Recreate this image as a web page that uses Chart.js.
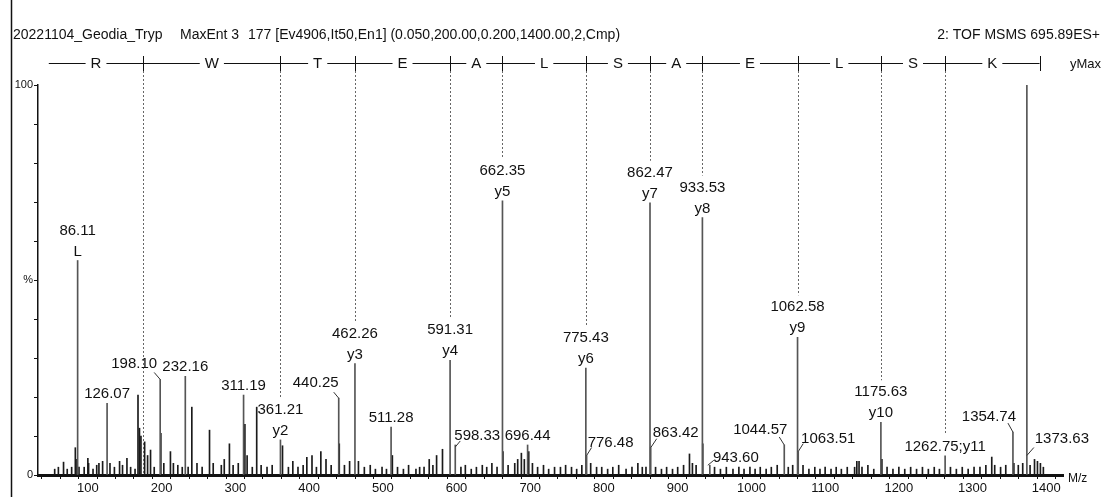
<!DOCTYPE html>
<html>
<head>
<meta charset="utf-8">
<script src="https://cdn.jsdelivr.net/npm/chart.js@4.4.0/dist/chart.umd.min.js"></script>
<style>
  html, body { margin: 0; padding: 0; background: #fff; }
  #wrap { width: 1109px; height: 500px; position: relative; }
</style>
</head>
<body>
<div id="wrap"><canvas id="spec"></canvas></div>
<script>
// labelled peaks (m/z, relative intensity %)
const peakMz  = [86.11, 126.07, 198.10, 232.16, 311.19, 361.21, 440.25, 462.26, 511.28, 591.31, 598.33, 662.35, 696.44,
                 775.43, 776.48, 862.47, 863.42, 933.53, 943.60, 1044.57, 1062.58, 1063.51, 1175.63, 1262.75, 1354.74, 1373.63];
const peakInt = [55, 18.4, 24.5, 25.3, 20.5, 9, 19.7, 28.6, 12.3, 29.4, 7.7, 70.3, 7.7,
                 27.4, 5, 69.8, 7, 66, 2.5, 7.7, 35.3, 6, 13.5, 4.9, 11, 100];

// unlabelled peaks and baseline noise [m/z, %]
const minorPeaks = [
  [55,1.5],[60,2],[67,3.3],[72,1.5],[78,2],[83,7],[84,4],[88,2],[95,2],[100,4.3],[101,3],[107,1.5],[112,2.5],[115,3],
  [120,3.5],[130,3],[136,2],[143,3.5],[147,2.5],[153,4.3],[158,2],[164,1.5],[168,20.5],[170,12],[172,10],[177,8.5],
  [181,5],[185,6.4],[190,2],[199,10.7],[203,3],[212,6],[216,3],[222,2.5],[228,2],[236,2],[241,17.4],[248,3],[255,2],
  [265,11.5],[270,3],[281,2.5],[285,4],[292,8],[297,2.5],[304,3],[313,13],[316,5],[323,2],[329,17.4],[335,2.5],[343,2],
  [350,2.5],[364,7.5],[372,2],[378,3.5],[385,2],[392,2.5],[397,4.5],[404,5],[410,2],[416,6],[423,4],[430,2.5],[441,8],
  [448,2.5],[455,3.5],[467,3.5],[475,2],[483,2.5],[490,1.5],[499,2],[505,1.5],[513,5],[520,2],[528,1.5],[535,2.5],
  [545,1.5],[550,2],[556,2],[563,4],[568,2.5],[573,5],[581,6.6],[606,2],[612,2.5],[620,1.5],[627,2],[635,2.5],[641,2],
  [648,3],[655,2],[663,6],[670,2.5],[679,3],[683,4],[688,5.6],[692,4],[698,6],[703,3],[710,2],[718,2.5],[725,1.5],
  [733,2],[741,2],[748,2.5],[756,2],[763,1.5],[770,2.5],[782,3],[790,2],[797,2],[805,1.5],[812,2],[820,2.5],[830,1.5],
  [838,2],[846,3],[852,2],[857,2],[870,2],[878,1.5],[885,2],[893,1.5],[900,2],[908,2.5],[916,5.4],[920,3],[925,2.5],
  [934,8],[950,2],[958,1.5],[966,2],[975,1.5],[983,2],[990,1.5],[998,2],[1005,1.5],[1012,2],[1020,1.5],[1027,2],
  [1035,2.5],[1050,2],[1056,2.5],[1070,2.5],[1078,1.5],[1086,2],[1093,1.5],[1100,2],[1108,1.5],[1115,2],[1122,1.5],
  [1130,2],[1140,2],[1143,3.5],[1146,3.5],[1150,2],[1158,2.5],[1166,1.5],[1177,4],[1184,2],[1192,1.5],[1200,2],
  [1208,1.5],[1216,2],[1224,1.5],[1232,2],[1240,1.5],[1248,2],[1255,1.5],[1270,2],[1278,1.5],[1286,2],[1294,1.5],
  [1302,2],[1310,2],[1318,2.5],[1326,4.6],[1330,2.5],[1338,2],[1345,2.5],[1356,3],[1362,2.5],[1368,3],[1378,2.5],
  [1384,4],[1388,3.5],[1392,3],[1396,2]
];

// sequence ladder: residue letters and the m/z where each one ends
const residues    = ['R', 'W', 'T', 'E', 'A', 'L', 'S', 'A', 'E', 'L', 'S', 'K'];
const residueEnds = [175.13, 361.21, 462.26, 591.31, 662.35, 775.43, 862.47, 933.53, 1062.58, 1175.63, 1262.75, 1390.84];
const ladderStart = 47;

const xMin = 45, xMax = 1410;
const xLabelStep = 100, xTickStep = 25;
const yTickText = { 0: '0', 50: '%', 100: '100' };

// peak annotations; dx/dy/lead are pixel offsets from the peak top
const peakLabels = [
  { mz: 86.11, text: ['86.11', 'L'] },
  { mz: 126.07, text: ['126.07'] },
  { mz: 198.10, text: ['198.10'], dx: -26, dy: -16, lead: [0, 0, -6, -7] },
  { mz: 232.16, text: ['232.16'] },
  { mz: 311.19, text: ['311.19'] },
  { mz: 361.21, text: ['361.21', 'y2'] },
  { mz: 440.25, text: ['440.25'], dx: -23, dy: -15, lead: [0, 0, -5, -6] },
  { mz: 462.26, text: ['462.26', 'y3'] },
  { mz: 511.28, text: ['511.28'] },
  { mz: 591.31, text: ['591.31', 'y4'] },
  { mz: 598.33, text: ['598.33'], dx: 22, dy: -9, lead: [0, 2, 5, -4] },
  { mz: 662.35, text: ['662.35', 'y5'] },
  { mz: 696.44, text: ['696.44'] },
  { mz: 775.43, text: ['775.43', 'y6'] },
  { mz: 776.48, text: ['776.48'], dx: 24, dy: -13, lead: [0, 0, 5, -8] },
  { mz: 862.47, text: ['862.47', 'y7'] },
  { mz: 863.42, text: ['863.42'], dx: 25, dy: -15, lead: [0, 0, 6, -9] },
  { mz: 933.53, text: ['933.53', 'y8'] },
  { mz: 943.60, text: ['943.60'], dx: 26, dy: -7, lead: [-2, 0, 4, -5] },
  { mz: 1044.57, text: ['1044.57'], dx: -24, dy: -15, lead: [0, 0, -5, -8] },
  { mz: 1062.58, text: ['1062.58', 'y9'] },
  { mz: 1063.51, text: ['1063.51'], dx: 30, dy: -13, lead: [0, 0, 5, -8] },
  { mz: 1175.63, text: ['1175.63', 'y10'] },
  { mz: 1262.75, text: ['1262.75;y11'] },
  { mz: 1354.74, text: ['1354.74'], dx: -24, dy: -15, lead: [0, 0, -5, -9] },
  { mz: 1373.63, text: ['1373.63'], at: 5, dx: 35, dy: -17, lead: [0, 0, 7, -8] }
];

const FONT = '"Liberation Sans", Arial, sans-serif';
const LINE_H = 21;
const LADDER_Y = 63;

function labelTop(chart, lab) {
  const ys = chart.scales.y;
  const i = peakMz.indexOf(lab.mz);
  const ref = ys.getPixelForValue(lab.at !== undefined ? lab.at : peakInt[i]);
  const dy = lab.dy !== undefined ? lab.dy : -9;
  return ref + dy - (lab.text.length - 1) * LINE_H - 9;
}

const annotate = {
  id: 'annotate',
  afterDraw(chart) {
    const ctx = chart.ctx;
    const xs = chart.scales.x, ys = chart.scales.y;
    ctx.save();

    // frame line on the far left
    ctx.strokeStyle = '#111';
    ctx.lineWidth = 1.5;
    ctx.beginPath(); ctx.moveTo(11.5, 0); ctx.lineTo(11.5, 497); ctx.stroke();

    // header
    ctx.fillStyle = '#111';
    ctx.textBaseline = 'middle';
    ctx.font = '14px ' + FONT;
    ctx.textAlign = 'left';
    ctx.fillText('20221104_Geodia_Tryp', 13, 35);
    ctx.fillText('MaxEnt 3', 180, 35);
    ctx.fillText('177 [Ev4906,It50,En1] (0.050,200.00,0.200,1400.00,2,Cmp)', 248, 35);
    ctx.textAlign = 'right';
    ctx.fillText('2: TOF MSMS 695.89ES+', 1100, 35);

    // sequence ladder
    ctx.font = '15px ' + FONT;
    ctx.textAlign = 'center';
    ctx.lineWidth = 1;
    let start = xs.getPixelForValue(ladderStart);
    residues.forEach((r, k) => {
      const end = xs.getPixelForValue(residueEnds[k]);
      const mid = (start + end) / 2;
      const half = ctx.measureText(r).width / 2 + 5;
      ctx.beginPath();
      ctx.moveTo(start, LADDER_Y + 0.5); ctx.lineTo(mid - half, LADDER_Y + 0.5);
      ctx.moveTo(mid + half, LADDER_Y + 0.5); ctx.lineTo(end, LADDER_Y + 0.5);
      ctx.moveTo(Math.round(end) + 0.5, LADDER_Y - 7); ctx.lineTo(Math.round(end) + 0.5, LADDER_Y + 8);
      ctx.stroke();
      ctx.fillText(r, mid, LADDER_Y + 1);
      start = end;
    });
    ctx.font = '13px ' + FONT;
    ctx.textAlign = 'left';
    ctx.fillText('yMax', 1070, LADDER_Y + 1);

    // dotted drop lines from each residue boundary
    ctx.strokeStyle = '#666';
    ctx.setLineDash([2, 2]);
    residueEnds.slice(0, -1).forEach(m => {
      const lab = peakLabels.find(l => l.mz === m);
      const bottom = lab ? labelTop(chart, lab) - 3 : ys.getPixelForValue(0);
      const x = Math.round(xs.getPixelForValue(m)) + 0.5;
      ctx.beginPath(); ctx.moveTo(x, LADDER_Y + 8); ctx.lineTo(x, bottom); ctx.stroke();
    });
    ctx.setLineDash([]);

    // peak labels
    ctx.fillStyle = '#111';
    ctx.strokeStyle = '#333';
    ctx.font = '15px ' + FONT;
    ctx.textAlign = 'center';
    peakLabels.forEach(lab => {
      const i = peakMz.indexOf(lab.mz);
      const px = xs.getPixelForValue(lab.mz);
      const ref = ys.getPixelForValue(lab.at !== undefined ? lab.at : peakInt[i]);
      const dx = lab.dx || 0;
      const dy = lab.dy !== undefined ? lab.dy : -9;
      const n = lab.text.length;
      lab.text.forEach((t, j) => {
        ctx.fillText(t, px + dx, ref + dy - (n - 1 - j) * LINE_H);
      });
      if (lab.lead) {
        const [x0, y0, x1, y1] = lab.lead;
        ctx.beginPath(); ctx.moveTo(px + x0, ref + y0); ctx.lineTo(px + x1, ref + y1); ctx.stroke();
      }
    });

    // axis title
    ctx.font = '12px ' + FONT;
    ctx.textAlign = 'left';
    ctx.fillText('M/z', 1068, 479);
    ctx.restore();
  }
};

const tickFont = { family: FONT, size: 13 };

new Chart(document.getElementById('spec'), {
  type: 'bar',
  data: {
    datasets: [{
      label: 'labelled',
      data: peakMz.map((m, i) => ({ x: m, y: peakInt[i] })),
      backgroundColor: '#555',
      barThickness: 1,
      grouped: false
    }, {
      label: 'minor',
      data: minorPeaks.map(p => ({ x: p[0], y: p[1] })),
      backgroundColor: '#1a1a1a',
      barThickness: 1,
      grouped: false
    }]
  },
  options: {
    responsive: true,
    maintainAspectRatio: false,
    animation: false,
    layout: { padding: { top: 85, right: 46, left: 0, bottom: 0 } },
    plugins: { legend: { display: false }, tooltip: { enabled: false } },
    scales: {
      x: {
        type: 'linear',
        min: xMin,
        max: xMax,
        afterBuildTicks: s => {
          const t = [];
          for (let v = 50; v <= 1400; v += xTickStep) t.push({ value: v });
          s.ticks = t;
        },
        afterFit: s => { s.height = 25; },
        ticks: {
          autoSkip: false,
          maxRotation: 0,
          padding: 2,
          color: '#111',
          font: tickFont,
          callback: v => (v % xLabelStep === 0 ? String(v) : '')
        },
        grid: { drawOnChartArea: false, tickLength: 4, color: '#111' },
        border: { color: '#111', width: 3 }
      },
      y: {
        min: 0,
        max: 100,
        afterBuildTicks: s => {
          const t = [];
          for (let v = 0; v <= 100; v += 10) t.push({ value: v });
          s.ticks = t;
        },
        afterFit: s => { s.width = 38; },
        ticks: {
          autoSkip: false,
          padding: 1,
          color: '#111',
          font: { family: FONT, size: 11 },
          callback: v => yTickText[v] || ''
        },
        grid: { drawOnChartArea: false, tickLength: 4, color: '#111' },
        border: { color: '#111', width: 1.5 }
      }
    }
  },
  plugins: [annotate]
});
</script>
</body>
</html>
